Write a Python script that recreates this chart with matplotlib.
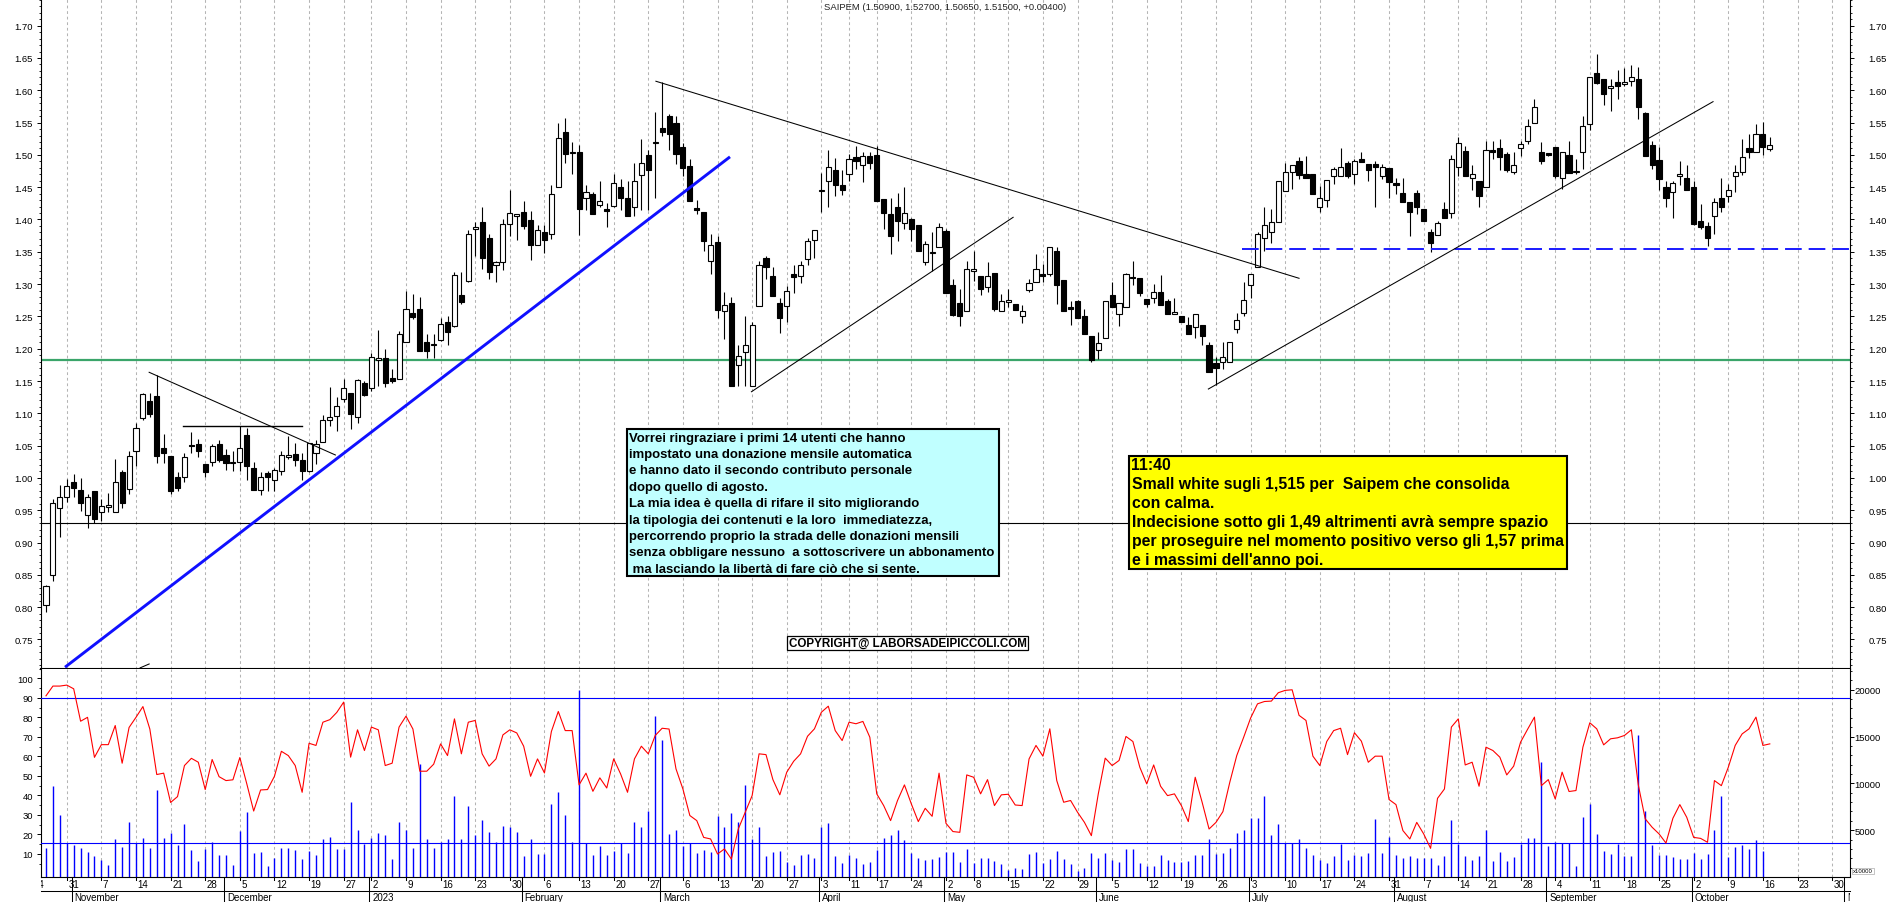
import numpy as np
import matplotlib
matplotlib.use('Agg')
import matplotlib.pyplot as plt
from matplotlib.patches import Rectangle
from matplotlib.lines import Line2D
from matplotlib.ticker import FixedLocator, FuncFormatter, NullLocator
import matplotlib.transforms as mtransforms

plt.rcParams['font.family'] = ['Liberation Sans', 'DejaVu Sans']
plt.rcParams['lines.scale_dashes'] = False

# ------------------------------------------------------------------ data
title_text = "SAIPEM (1.50900, 1.52700, 1.50650, 1.51500, +0.00400)"
first_idx = 2  # first candle = 26 Oct 2022 (trading-day index from 24 Oct 2022)
holidays = ['2022-12-26', '2023-04-07', '2023-04-10', '2023-05-01', '2023-08-15']
month_names = ['2023', 'February', 'March', 'April', 'May', 'June', 'July',
               'August', 'September', 'October', 'November', 'December']

opens = [
    0.803, 0.850, 0.954, 0.971, 0.994, 0.982, 0.943, 0.979, 0.947, 0.955,
    0.947, 1.009, 0.983, 1.041, 1.092, 1.119, 1.127, 1.046, 1.034, 1.001,
    1.001, 1.051, 1.052, 1.021, 1.024, 1.052, 1.035, 1.023, 1.025, 1.066,
    1.016, 0.982, 1.007, 0.997, 1.010, 1.033, 1.037, 1.028, 1.011, 1.039,
    1.056, 1.089, 1.096, 1.122, 1.132, 1.095, 1.147, 1.139, 1.183, 1.185,
    1.154, 1.153, 1.211, 1.256, 1.262, 1.211, 1.205, 1.214, 1.242, 1.235,
    1.283, 1.305, 1.386, 1.396, 1.372, 1.329, 1.334, 1.393, 1.406, 1.411,
    1.399, 1.361, 1.380, 1.377, 1.451, 1.535, 1.503, 1.505, 1.433, 1.439,
    1.423, 1.416, 1.421, 1.451, 1.434, 1.420, 1.469, 1.500, 1.518, 1.541,
    1.560, 1.549, 1.512, 1.483, 1.417, 1.411, 1.336, 1.365, 1.259, 1.271,
    1.175, 1.195, 1.143, 1.266, 1.341, 1.312, 1.271, 1.266, 1.316, 1.313,
    1.339, 1.369, 1.444, 1.459, 1.477, 1.453, 1.471, 1.496, 1.485, 1.498,
    1.500, 1.432, 1.409, 1.419, 1.394, 1.401, 1.391, 1.334, 1.348, 1.357,
    1.382, 1.299, 1.271, 1.258, 1.321, 1.312, 1.295, 1.317, 1.259, 1.272,
    1.269, 1.250, 1.291, 1.303, 1.314, 1.316, 1.351, 1.306, 1.264, 1.274,
    1.250, 1.219, 1.198, 1.216, 1.283, 1.254, 1.264, 1.311, 1.310, 1.277,
    1.279, 1.287, 1.274, 1.254, 1.251, 1.236, 1.233, 1.237, 1.206, 1.178,
    1.179, 1.179, 1.230, 1.256, 1.299, 1.326, 1.371, 1.380, 1.396, 1.444,
    1.473, 1.490, 1.470, 1.470, 1.420, 1.430, 1.468, 1.467, 1.487, 1.471,
    1.494, 1.486, 1.486, 1.467, 1.480, 1.456, 1.441, 1.427, 1.441, 1.417,
    1.380, 1.376, 1.417, 1.410, 1.481, 1.506, 1.465, 1.459, 1.451, 1.508,
    1.510, 1.502, 1.473, 1.510, 1.522, 1.550, 1.505, 1.503, 1.512, 1.464,
    1.500, 1.473, 1.504, 1.548, 1.627, 1.618, 1.604, 1.613, 1.610, 1.615,
    1.618, 1.565, 1.515, 1.492, 1.451, 1.443, 1.468, 1.464, 1.450, 1.398,
    1.390, 1.406, 1.434, 1.437, 1.467, 1.473, 1.510, 1.504, 1.532, 1.509]

highs = [
    0.835, 0.967, 0.989, 0.998, 1.006, 1.000, 0.975, 0.979, 0.967, 0.977,
    1.029, 1.013, 1.041, 1.085, 1.132, 1.132, 1.159, 1.068, 1.034, 1.009,
    1.039, 1.071, 1.061, 1.021, 1.052, 1.058, 1.045, 1.042, 1.081, 1.078,
    1.024, 1.009, 1.011, 1.015, 1.041, 1.065, 1.054, 1.038, 1.054, 1.058,
    1.097, 1.140, 1.125, 1.153, 1.132, 1.153, 1.150, 1.193, 1.229, 1.200,
    1.168, 1.228, 1.290, 1.285, 1.280, 1.223, 1.223, 1.248, 1.251, 1.318,
    1.319, 1.384, 1.396, 1.420, 1.378, 1.336, 1.400, 1.445, 1.407, 1.429,
    1.413, 1.391, 1.391, 1.454, 1.549, 1.557, 1.520, 1.515, 1.454, 1.443,
    1.460, 1.426, 1.470, 1.463, 1.460, 1.487, 1.524, 1.507, 1.566, 1.613,
    1.563, 1.560, 1.519, 1.493, 1.430, 1.411, 1.377, 1.375, 1.287, 1.280,
    1.205, 1.250, 1.242, 1.336, 1.344, 1.326, 1.278, 1.297, 1.330, 1.336,
    1.371, 1.384, 1.472, 1.507, 1.495, 1.477, 1.501, 1.513, 1.504, 1.504,
    1.513, 1.432, 1.433, 1.441, 1.450, 1.403, 1.391, 1.366, 1.381, 1.395,
    1.386, 1.308, 1.293, 1.335, 1.352, 1.312, 1.334, 1.317, 1.285, 1.293,
    1.269, 1.267, 1.308, 1.346, 1.331, 1.358, 1.357, 1.306, 1.274, 1.276,
    1.261, 1.219, 1.226, 1.274, 1.304, 1.271, 1.317, 1.335, 1.310, 1.277,
    1.300, 1.314, 1.277, 1.278, 1.251, 1.249, 1.253, 1.237, 1.210, 1.187,
    1.211, 1.211, 1.256, 1.303, 1.316, 1.380, 1.419, 1.417, 1.460, 1.488,
    1.485, 1.496, 1.498, 1.470, 1.452, 1.461, 1.482, 1.510, 1.491, 1.494,
    1.504, 1.486, 1.490, 1.486, 1.480, 1.465, 1.465, 1.427, 1.445, 1.417,
    1.385, 1.397, 1.427, 1.500, 1.527, 1.513, 1.484, 1.459, 1.522, 1.522,
    1.524, 1.505, 1.505, 1.522, 1.556, 1.586, 1.520, 1.503, 1.512, 1.505,
    1.522, 1.494, 1.560, 1.620, 1.656, 1.618, 1.617, 1.632, 1.634, 1.639,
    1.636, 1.567, 1.522, 1.512, 1.459, 1.460, 1.490, 1.484, 1.459, 1.424,
    1.396, 1.434, 1.465, 1.455, 1.484, 1.524, 1.532, 1.548, 1.551, 1.527]

lows = [
    0.792, 0.841, 0.908, 0.962, 0.970, 0.949, 0.922, 0.930, 0.934, 0.947,
    0.947, 0.953, 0.975, 1.019, 1.089, 1.094, 1.023, 1.023, 0.975, 0.979,
    0.993, 1.039, 1.033, 1.001, 1.019, 1.024, 1.013, 1.011, 1.011, 0.996,
    0.982, 0.974, 0.979, 0.979, 1.004, 1.029, 1.018, 0.996, 1.009, 1.021,
    1.055, 1.081, 1.073, 1.117, 1.076, 1.085, 1.127, 1.135, 1.142, 1.140,
    1.147, 1.153, 1.210, 1.246, 1.197, 1.185, 1.185, 1.212, 1.206, 1.233,
    1.269, 1.303, 1.344, 1.323, 1.308, 1.303, 1.322, 1.375, 1.369, 1.386,
    1.338, 1.361, 1.348, 1.370, 1.451, 1.487, 1.470, 1.376, 1.414, 1.408,
    1.420, 1.389, 1.419, 1.415, 1.405, 1.406, 1.415, 1.415, 1.434, 1.530,
    1.507, 1.486, 1.468, 1.428, 1.408, 1.352, 1.315, 1.248, 1.215, 1.143,
    1.142, 1.142, 1.143, 1.266, 1.308, 1.282, 1.225, 1.242, 1.286, 1.302,
    1.329, 1.340, 1.412, 1.420, 1.437, 1.438, 1.460, 1.478, 1.458, 1.478,
    1.429, 1.385, 1.347, 1.366, 1.385, 1.366, 1.352, 1.330, 1.321, 1.357,
    1.286, 1.251, 1.235, 1.258, 1.305, 1.283, 1.288, 1.259, 1.259, 1.264,
    1.260, 1.240, 1.288, 1.303, 1.304, 1.312, 1.269, 1.259, 1.236, 1.248,
    1.223, 1.180, 1.184, 1.216, 1.264, 1.235, 1.264, 1.298, 1.281, 1.264,
    1.271, 1.268, 1.254, 1.254, 1.241, 1.222, 1.216, 1.206, 1.164, 1.144,
    1.169, 1.179, 1.224, 1.251, 1.279, 1.326, 1.352, 1.364, 1.396, 1.444,
    1.447, 1.462, 1.465, 1.440, 1.412, 1.419, 1.455, 1.467, 1.464, 1.455,
    1.489, 1.459, 1.419, 1.462, 1.434, 1.439, 1.427, 1.375, 1.409, 1.397,
    1.349, 1.376, 1.402, 1.402, 1.468, 1.467, 1.445, 1.419, 1.451, 1.494,
    1.476, 1.473, 1.470, 1.499, 1.517, 1.550, 1.486, 1.499, 1.464, 1.447,
    1.472, 1.470, 1.478, 1.538, 1.610, 1.577, 1.568, 1.586, 1.607, 1.606,
    1.555, 1.498, 1.478, 1.446, 1.420, 1.403, 1.453, 1.446, 1.391, 1.385,
    1.359, 1.378, 1.411, 1.427, 1.443, 1.469, 1.495, 1.504, 1.500, 1.5065]

closes = [
    0.832, 0.961, 0.971, 0.987, 0.984, 0.961, 0.971, 0.937, 0.957, 0.958,
    0.993, 0.961, 1.034, 1.077, 1.130, 1.099, 1.034, 1.039, 0.979, 0.985,
    1.032, 1.049, 1.042, 1.009, 1.050, 1.027, 1.023, 1.025, 1.046, 1.019,
    0.982, 1.002, 1.002, 1.012, 1.036, 1.035, 1.027, 1.010, 1.054, 1.052,
    1.089, 1.095, 1.111, 1.139, 1.099, 1.151, 1.128, 1.187, 1.185, 1.147,
    1.150, 1.222, 1.262, 1.249, 1.197, 1.197, 1.207, 1.238, 1.226, 1.314,
    1.272, 1.377, 1.388, 1.341, 1.318, 1.334, 1.393, 1.410, 1.407, 1.390,
    1.361, 1.383, 1.369, 1.439, 1.526, 1.501, 1.503, 1.416, 1.442, 1.408,
    1.429, 1.413, 1.456, 1.434, 1.405, 1.459, 1.488, 1.476, 1.520, 1.535,
    1.533, 1.501, 1.479, 1.429, 1.415, 1.366, 1.360, 1.260, 1.267, 1.143,
    1.188, 1.206, 1.236, 1.329, 1.326, 1.282, 1.247, 1.290, 1.311, 1.330,
    1.366, 1.384, 1.446, 1.481, 1.454, 1.445, 1.493, 1.490, 1.499, 1.488,
    1.429, 1.410, 1.375, 1.397, 1.410, 1.386, 1.352, 1.362, 1.350, 1.388,
    1.286, 1.252, 1.250, 1.324, 1.323, 1.293, 1.312, 1.261, 1.274, 1.276,
    1.260, 1.259, 1.301, 1.323, 1.313, 1.358, 1.298, 1.259, 1.262, 1.248,
    1.223, 1.182, 1.209, 1.274, 1.264, 1.271, 1.315, 1.309, 1.286, 1.269,
    1.288, 1.268, 1.254, 1.256, 1.241, 1.222, 1.253, 1.219, 1.164, 1.170,
    1.187, 1.211, 1.244, 1.276, 1.316, 1.377, 1.392, 1.396, 1.460, 1.473,
    1.485, 1.469, 1.465, 1.440, 1.433, 1.461, 1.478, 1.481, 1.468, 1.491,
    1.489, 1.476, 1.481, 1.481, 1.458, 1.454, 1.427, 1.412, 1.419, 1.397,
    1.363, 1.394, 1.402, 1.493, 1.519, 1.467, 1.471, 1.437, 1.508, 1.505,
    1.497, 1.476, 1.485, 1.517, 1.544, 1.574, 1.491, 1.500, 1.468, 1.505,
    1.472, 1.475, 1.544, 1.620, 1.612, 1.594, 1.606, 1.607, 1.612, 1.620,
    1.574, 1.498, 1.484, 1.463, 1.434, 1.457, 1.470, 1.446, 1.393, 1.389,
    1.371, 1.427, 1.419, 1.445, 1.473, 1.496, 1.505, 1.532, 1.512, 1.515]

oscillator = [
    91, 96, 96, 96.5, 94.6, 78, 80, 59.5, 66, 66,
    75.8, 56.5, 74.8, 80, 85.5, 74, 50.7, 51.4, 36.4, 39.4,
    55.3, 59, 57, 43, 58.4, 49.6, 47.6, 48, 59.4, 46,
    32, 42.8, 43, 49.8, 62.6, 60.4, 55.3, 41.6, 66.7, 65.6,
    77.5, 78.8, 82.5, 87.8, 59.6, 73.6, 63, 75, 73.6, 55.3,
    56.5, 75, 80.6, 74, 52.4, 52.4, 56, 66.4, 60.4, 79.2,
    61.3, 77.5, 78.4, 61.3, 55, 58.7, 71, 73.6, 72, 65.2,
    49.8, 58.7, 51.5, 72.7, 83, 73.2, 73.2, 45.4, 51.4, 42.1,
    49, 43.8, 58.7,
    51, 41.6, 58.7, 65.2, 61.3, 70.7, 74.4, 74, 53.6, 43.3,
    29.7, 27.1, 18.5, 17.7, 10, 12.6, 7.4, 22.8, 31.4, 39.9,
    61.3, 60.9, 48.1, 40.3, 51.9, 57.5, 61.3, 70.3, 74.1, 82.6,
    85.7, 73.2, 68.1, 77.5, 76.7, 77.9, 69.8, 40.8, 34.8, 27.1,
    37.4, 45.4, 35.6, 26.6, 33.4, 29.3, 51.4, 25.7, 21.5, 21.1,
    50.5, 49.3, 40.8, 48.1, 34.8, 40.3, 40.6, 35.1, 34.8, 58.7,
    65.6, 60.1, 74.1, 47.6, 36.5, 37.4, 31.4, 26.2, 19.4, 40.8,
    59.1, 55.3, 57.9, 70.2, 67.6, 54.4, 45.9, 55.6, 44.7, 39.9,
    40.8, 34.8, 26.6, 49.3, 36.5, 22.8, 26.2, 31.7, 46.8, 60.4,
    69.8,
    79.6, 86.9, 88.1, 88.3, 92.6, 93.8, 94.1, 81, 78.4, 60.1,
    55.3, 67.6, 73.2, 74.4, 60.9, 72.1, 67.8, 57, 60.1, 60.1,
    37.9, 35.3, 22, 17.7, 26.2, 20.3, 12.9, 38.5, 43.3, 75,
    79.2, 55.6, 57, 44.7, 64.7, 63, 59.6, 50.5, 55, 67.3,
    73.8, 80.1, 45, 48.1, 38.2, 51.9, 42, 42.5, 64.7, 77.2,
    74.1, 65.9, 69, 69.5, 70.7, 73.6, 45.4, 28, 23.7, 20.3,
    15.6, 28.3, 35.3, 28.8, 18.5, 18, 16, 47.6, 45, 54.4,
    65.6, 71.5, 74.1, 80.1, 65.6, 66.4]

volume_k = [
    3.14, 9.73, 6.66, 3.60, 3.38, 3.14, 2.68, 2.26, 1.80, 1.27,
    4.02, 3.24, 5.85, 3.60, 4.12, 3.07, 9.31, 4.12, 4.65, 3.38,
    5.64, 2.86, 1.73, 2.96, 3.70, 2.33, 2.40, 1.27, 4.86, 6.98,
    2.54, 2.68, 1.16, 2.01, 3.14, 3.07, 2.86, 1.90, 2.79, 2.33,
    4.02, 4.30, 2.96, 2.96, 7.97, 5.07, 3.56, 4.12, 4.65, 4.44,
    1.90, 5.92, 4.97, 3.07, 12.06, 4.09, 3.07, 3.74, 4.02, 8.60,
    4.02, 7.55, 4.44, 6.13, 4.76, 3.70, 5.43, 5.32, 4.76, 2.22,
    4.09, 2.43, 2.43, 7.83, 9.03, 6.66, 3.70, 19.96, 3.60, 2.33,
    3.28, 2.33, 2.75, 3.60, 2.54, 5.85,
    5.32, 7.09, 17.24, 14.6, 4.55, 5.07, 3.31, 3.67, 2.54, 2.86,
    2.68, 6.49, 5.32, 6.84, 5.89, 9.84, 4.02, 5.32, 2.19, 2.68,
    2.75, 1.62, 1.27, 2.33, 2.43, 2.01, 5.32, 5.78, 2.26, 1.48,
    2.33, 2.01, 1.37, 1.62, 2.89, 4.12, 4.44, 5.07, 3.91, 2.54,
    2.08, 1.80, 1.90, 2.15, 2.68, 2.68, 1.62, 2.96, 1.48, 2.08,
    2.01, 1.73, 1.37, 0.74, 0.99, 0.85, 2.43, 2.68, 1.48, 1.90,
    2.75, 1.90, 1.37, 0.63, 0.99, 2.54, 2.08, 2.54, 1.80, 1.62,
    2.96, 2.96, 1.48, 1.20, 1.13, 2.33, 1.80, 1.62, 1.62, 1.73,
    2.33, 2.33, 4.02, 2.43, 2.54, 3.14, 4.72, 4.97, 6.31,
    6.31, 8.67, 4.44, 5.71, 3.67, 3.67, 4.09, 3.14, 2.33, 1.80,
    1.48, 2.26, 3.49, 1.80, 2.33, 2.26, 2.54, 6.21, 2.54, 4.30,
    2.33, 2.04, 2.26, 2.01, 2.04, 2.04, 1.27, 2.26, 6.13, 3.49,
    2.26, 1.80, 2.26, 5.07, 1.73, 2.68, 1.73, 2.15, 3.49, 4.12,
    4.12, 12.30, 3.31, 3.77, 3.60, 3.60, 1.20, 6.38, 7.83, 4.62,
    2.75, 2.43, 3.49, 2.26, 2.26, 15.12, 7.02, 3.38, 2.33, 2.33,
    2.15, 1.90, 1.90, 2.54, 1.90, 2.43, 5.07, 8.67, 2.15, 3.21,
    3.38, 2.96, 3.91, 2.79]

# drawn annotations (trading-day index, price)
trend_blue = (4.75, 0.707, 100.8, 1.497)
trend_lines_black = [(90.1, 1.614, 183.0, 1.309),
                     (103.9, 1.1334, 141.7, 1.4034),
                     (169.9, 1.1376, 242.8, 1.5824),
                     (16.9, 1.1635, 43.8, 1.0355),
                     (15.6, 0.706, 16.9, 0.712)]
short_level = (21.8, 39.0, 1.0808)
green_level = 1.1825
black_level = 0.930
blue_dash_level = (174.8, 1.354)
osc_levels = [90, 15.5]

cyan_lines = ["Vorrei ringraziare i primi 14 utenti che hanno",
              "impostato una donazione mensile automatica",
              "e hanno dato il secondo contributo personale",
              "dopo quello di agosto.",
              "La mia idea è quella di rifare il sito migliorando",
              "la tipologia dei contenuti e la loro  immediatezza,",
              "percorrendo proprio la strada delle donazioni mensili",
              "senza obbligare nessuno  a sottoscrivere un abbonamento",
              " ma lasciando la libertà di fare ciò che si sente."]
yellow_lines = ["11:40",
                "Small white sugli 1,515 per  Saipem che consolida",
                "con calma.",
                "Indecisione sotto gli 1,49 altrimenti avrà sempre spazio",
                "per proseguire nel momento positivo verso gli 1,57 prima",
                "e i massimi dell'anno poi."]
copyright_text = "COPYRIGHT@ LABORSADEIPICCOLI.COM"

# ------------------------------------------------------------------ layout
W, H, DPI = 1890, 903, 100
L, R = 40.8, 1850.0
Y_MID, Y_BOT = 669.5, 878.0
PX_PER_DAY = 6.923
X_LEFT_IDX = 1.25

trade_days = np.busday_offset(np.datetime64('2022-10-24', 'D'), np.arange(275),
                              roll='forward', holidays=holidays)
dates = [d.astype(object) for d in trade_days]

fig = plt.figure(figsize=(W / DPI, H / DPI), dpi=DPI)
fig.patch.set_facecolor('white')


def frect(x0, y0, x1, y1):
    return [x0 / W, 1 - y1 / H, (x1 - x0) / W, (y1 - y0) / H]


def px_of(i):
    return L + (i - X_LEFT_IDX) * PX_PER_DAY


ax = fig.add_axes(frect(L, 0, R, Y_MID))
axr = ax.twinx()
ax2 = fig.add_axes(frect(L, Y_MID, R, Y_BOT))
ax2r = ax2.twinx()
xlim = (X_LEFT_IDX, X_LEFT_IDX + (R - L) / PX_PER_DAY)
for a in (ax, ax2):
    a.set_xlim(*xlim)
    a.xaxis.set_major_locator(NullLocator())
    a.xaxis.set_minor_locator(NullLocator())

# week starts & month starts
week_idx = [0] + [i for i in range(1, len(dates))
                  if dates[i].isocalendar()[1] != dates[i - 1].isocalendar()[1]]
month_idx = [i for i in range(1, len(dates)) if dates[i].month != dates[i - 1].month]

grid_kw = dict(color='#b4b4b4', lw=0.75, ls=(0, (2.0, 2.0)), zorder=0.5)
for i in week_idx:
    if xlim[0] <= i <= xlim[1]:
        ax.axvline(i, **grid_kw)
        ax2.axvline(i, **grid_kw)

# ------------------------------------------------------------------ candles
o, h, l, c = (np.array(v) for v in (opens, highs, lows, closes))
idx = np.arange(first_idx, first_idx + len(o))
up = c >= o
ax.vlines(idx, l, h, color='black', lw=0.8, zorder=3)
body_lo = np.minimum(o, c)
body_h = np.maximum(np.abs(c - o), 0.0022)
ax.bar(idx, body_h, bottom=body_lo, width=0.74,
       color=np.where(up, 'white', 'black'), edgecolor='black', linewidth=0.8, zorder=4)

# levels and trend lines
ax.axhline(black_level, color='black', lw=0.8, zorder=2)
ax.axhline(green_level, color='#3aa56a', lw=1.6, zorder=2)
ax.plot([blue_dash_level[0], xlim[1]], [blue_dash_level[1]] * 2, color='#1a1aff',
        lw=1.4, ls=(0, (12.0, 5.0)), zorder=5)
x1, y1, x2, y2 = trend_blue
ax.plot([x1, x2], [y1, y2], color='#1010ff', lw=2.1, zorder=5, solid_capstyle='butt')
for (x1, y1, x2, y2) in trend_lines_black:
    ax.plot([x1, x2], [y1, y2], color='black', lw=0.75, zorder=5)
ax.plot([short_level[0], short_level[1]], [short_level[2]] * 2, color='black', lw=1.0, zorder=5)

ax.set_ylim(0.7050, 1.7413)
axr.set_ylim(0.7050, 1.7413)
maj = np.round(np.arange(0.75, 1.7001, 0.05), 2)
mnr = np.round(np.arange(0.71, 1.7401, 0.01), 2)
fmt = FuncFormatter(lambda v, p: f"{v:.2f}")
for a in (ax, axr):
    a.yaxis.set_major_locator(FixedLocator(maj))
    a.yaxis.set_minor_locator(FixedLocator(mnr))
    a.yaxis.set_major_formatter(fmt)
ax.tick_params(axis='y', which='major', left=True, right=False, labelright=False,
               direction='out', length=2.6, width=0.7, pad=3.0, labelsize=6.8)
ax.tick_params(axis='y', which='minor', left=True, right=False, direction='out', length=1.3, width=0.6)
axr.tick_params(axis='y', which='major', right=True, left=False, labelright=True, labelleft=False,
                direction='out', length=2.6, width=0.7, pad=10.5, labelsize=6.8)
axr.tick_params(axis='y', which='minor', right=True, left=False, direction='out', length=1.3, width=0.6)

for a in (ax, axr, ax2, ax2r):
    for s in a.spines.values():
        s.set_visible(False)
ax.spines['left'].set_visible(True)
ax.spines['right'].set_visible(True)
ax.spines['bottom'].set_visible(True)
ax.spines['left'].set_linewidth(0.8)
ax.spines['right'].set_linewidth(0.8)
ax.spines['bottom'].set_linewidth(1.5)
for s in ('left', 'right', 'bottom'):
    ax2.spines[s].set_visible(True)
    ax2.spines[s].set_linewidth(0.8)

# ------------------------------------------------------------------ lower panel
vol = np.array(volume_k) * 1000.0
vidx = np.arange(first_idx, first_idx + len(vol))
ax2.vlines(vidx, 0, vol, color='#0000ff', lw=1.0, zorder=2)
ax2.set_ylim(0, 22264)
ax2.yaxis.tick_right()
ax2.yaxis.set_major_locator(FixedLocator([5000, 10000, 15000, 20000]))
ax2.yaxis.set_minor_locator(FixedLocator(np.arange(1000, 22001, 1000)))
ax2.tick_params(axis='y', which='major', right=True, left=False, labelright=True, labelleft=False,
                direction='out', length=2.6, width=0.7, pad=0.5, labelsize=6.8)
ax2.tick_params(axis='y', which='minor', right=True, left=False, direction='out', length=1.3, width=0.6)

osc = np.array(oscillator)
oidx = np.arange(first_idx, first_idx + len(osc))
ax2r.plot(oidx, osc, color='#ff0000', lw=0.8, zorder=3)
for lv in osc_levels:
    ax2r.axhline(lv, color='#0000ff', lw=0.8, zorder=2)
ax2r.set_ylim(-1.78, 105.0)
ax2r.yaxis.tick_left()
ax2r.yaxis.set_major_locator(FixedLocator(np.arange(10, 101, 10)))
ax2r.yaxis.set_minor_locator(FixedLocator(np.arange(5, 106, 5)))
ax2r.tick_params(axis='y', which='major', left=True, right=False, labelleft=True, labelright=False,
                 direction='out', length=2.6, width=0.7, pad=3.0, labelsize=6.8)
ax2r.tick_params(axis='y', which='minor', left=True, right=False, direction='out', length=1.3, width=0.6)

# ------------------------------------------------------------------ date axis
clipbox = mtransforms.TransformedBbox(
    mtransforms.Bbox([[L / W, 0], [(R + 0.5) / W, 1 - Y_BOT / H]]), fig.transFigure)


def fline(xa, ya, xb, yb, lw=0.75, color='black'):
    fig.add_artist(Line2D([xa / W, xb / W], [1 - ya / H, 1 - yb / H],
                          transform=fig.transFigure, color=color, lw=lw))


for i in week_idx:
    x = px_of(i)
    if x > R + 1:
        continue
    if x >= L:
        fline(x, Y_BOT, x, Y_BOT + 3)
    t = fig.text((x + 1.5) / W, 1 - 885.5 / H, str(dates[i].day), fontsize=7,
                 ha='left', va='center', color='black')
    t.set_clip_box(clipbox)
    t.set_clip_on(True)

fline(L, 891.5, R, 891.5)
for i in month_idx:
    x = px_of(i) - 2
    if x < L or x > R + 1:
        continue
    fline(x, Y_BOT, x, H)
    m = dates[i].month
    t = fig.text((x + 3) / W, 1 - 898.5 / H, month_names[(m - 1) % 12], fontsize=7,
                 ha='left', va='center', color='black')
    t.set_clip_box(clipbox)
    t.set_clip_on(True)

fig.text(1853 / W, 1 - 872 / H, 'x10000', fontsize=4.3, ha='left', va='center',
         bbox=dict(facecolor='white', edgecolor='#999999', lw=0.4, pad=0.6))

# ------------------------------------------------------------------ texts
fig.text(945 / W, 1 - 8 / H, title_text, fontsize=6.8, ha='center', va='center', color='#222222')

renderer = fig.canvas.get_renderer()


def add_box(x0, y0, x1, y1, fc, lw):
    fig.add_artist(Rectangle((x0 / W, 1 - y1 / H), (x1 - x0) / W, (y1 - y0) / H,
                             transform=fig.transFigure, facecolor=fc, edgecolor='black',
                             linewidth=lw, zorder=10))


def fit_lines(lines, x, y0, dy, target_w, family, longest):
    ts = [fig.text(x / W, 1 - (y0 + k * dy) / H, s, fontsize=10, family=family,
                   weight='bold', ha='left', va='center', color='black', zorder=11)
          for k, s in enumerate(lines)]
    w = ts[longest].get_window_extent(renderer).width
    size = 10.0 * target_w / w
    for t in ts:
        t.set_fontsize(size)
    return ts


add_box(627, 430, 999, 577, '#c0ffff', 1.5)
fit_lines(cyan_lines, 629.5, 438.8, 16.35, 366.0, ['Liberation Sans', 'DejaVu Sans'], 7)

add_box(1129, 456.7, 1567, 570, '#ffff00', 1.5)
fit_lines(yellow_lines, 1131.5, 466.0, 18.8, 432.0, ['Liberation Sans', 'DejaVu Sans'], 4)

add_box(787, 637, 1028, 650.5, 'white', 0.9)
fit_lines([copyright_text], 789.5, 643.8, 0, 236.0, ['Liberation Sans', 'DejaVu Sans'], 0)

fig.savefig('out.png', dpi=DPI)
